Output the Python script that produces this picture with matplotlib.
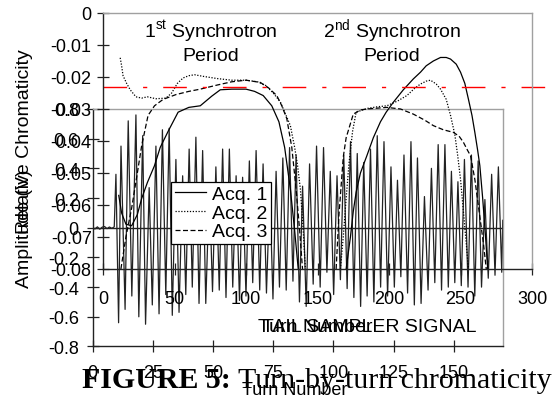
import numpy as np
import matplotlib.pyplot as plt

plt.rcParams['font.family'] = ['Liberation Sans', 'DejaVu Sans']
plt.rcParams['mathtext.fontset'] = 'custom'
plt.rcParams['mathtext.rm'] = 'Liberation Sans'

# tail sampler signal (turn, volts), peaks and troughs
sig_turns = [0, 1, 2, 3, 4, 5, 6, 7, 8, 9,
             9.7, 10.8, 11.8, 13.5, 14.8, 16.3, 18.0, 19.2, 20.8, 22.0,
             23.5, 24.8, 26.3, 27.6, 29.0, 30.4, 31.8, 33.1, 34.6, 35.9,
             37.4, 38.7, 40.1, 41.4, 42.9, 44.2, 45.7, 47.0, 48.5, 49.8,
             51.2, 52.6, 54.0, 55.4, 56.8, 58.2, 59.6, 61.0, 62.3, 63.7,
             65.1, 66.5, 67.9, 69.4, 70.8, 72.2, 73.6, 74.9, 76.2, 77.6,
             79.0, 80.4, 81.8, 83.2, 84.5, 85.9, 87.2, 88.7, 90.1, 91.6,
             93.0, 94.5, 95.9, 97.3, 98.7, 100.1, 101.5, 102.9, 104.3, 105.7,
             107.1, 108.5, 109.9, 111.3, 112.6, 114.0, 115.4, 116.8, 118.2, 119.6,
             121.0, 122.5, 123.9, 125.3, 126.6, 128.0, 129.3, 130.8, 132.2, 133.6,
             134.9, 136.4, 137.8, 139.3, 140.7, 142.1, 143.5, 144.9, 146.3, 147.7,
             149.0, 150.4, 151.7, 153.1, 154.4, 155.9, 157.3, 158.7, 160.1, 161.5,
             162.9, 164.3, 165.7, 167.1, 168.5, 169.9, 170.3]
sig_amp = [0.0, -0.008, 0.006, -0.01, 0.004, 0.008, -0.006, 0.005, -0.004, 0.006,
           0.36, -0.64, 0.55, -0.55, 0.72, -0.46, 0.76, -0.60, 0.62, -0.65,
           0.27, -0.52, 0.55, -0.58, 0.66, -0.45, 0.67, -0.59, 0.46, -0.57,
           0.35, -0.45, 0.53, -0.40, 0.61, -0.51, 0.52, -0.51, 0.28, -0.43,
           0.41, -0.42, 0.53, -0.47, 0.53, -0.40, 0.35, -0.49, 0.34, -0.46,
           0.45, -0.37, 0.52, -0.42, 0.43, -0.44, 0.25, -0.48, 0.38, -0.40,
           0.47, -0.42, 0.54, -0.36, 0.49, -0.50, 0.28, -0.53, 0.43, -0.38,
           0.55, -0.40, 0.54, -0.30, 0.38, -0.45, 0.35, -0.35, 0.49, -0.41,
           0.58, -0.47, 0.50, -0.53, 0.44, -0.46, 0.53, -0.50, 0.62, -0.40,
           0.58, -0.46, 0.41, -0.40, 0.32, -0.33, 0.49, -0.44, 0.58, -0.52,
           0.47, -0.51, 0.21, -0.42, 0.40, -0.37, 0.56, -0.42, 0.56, -0.40,
           0.38, -0.37, 0.31, -0.39, 0.46, -0.40, 0.49, -0.46, 0.45, -0.40,
           0.19, -0.34, 0.36, -0.32, 0.41, -0.30, 0.05]

# relative chromaticity, three acquisitions (nan splits the two synchrotron periods)
nan = np.nan
acq1_turns = [11, 13, 16, 20, 24, 27, 31, 36, 40, 45.5, 52.5, 60, 68, 76, 82, 90, 100, 106, 112,
              118, 123, 127, 131, 134, 136.5, nan,
              170, 173, 175, 177, 180, 184.5, 189, 194, 198, 203, 210, 217, 222, 226, 231, 236,
              240, 243, 247, 250, 253, 255.5, 258, 260, 262, 263.5, 265.5, 267.5, 269]
acq1_chroma = [-0.057, -0.0625, -0.066, -0.0665, -0.063, -0.058, -0.053, -0.0477, -0.042, -0.037,
               -0.031, -0.0295, -0.029, -0.026, -0.024, -0.0238, -0.0238, -0.0245, -0.0258,
               -0.029, -0.034, -0.042, -0.055, -0.068, -0.08, nan,
               -0.08, -0.07, -0.062, -0.056, -0.05, -0.0446, -0.039, -0.034, -0.031, -0.0279,
               -0.024, -0.0206, -0.0185, -0.0165, -0.015, -0.0139, -0.0139, -0.0144, -0.016,
               -0.0185, -0.022, -0.0269, -0.032, -0.0373, -0.043, -0.0477, -0.058, -0.07, -0.08]
acq2_turns = [12, 13, 14, 16.5, 19, 23, 27, 31, 37, 44, 48, 52, 56, 60, 64, 70, 80, 90, 100,
              108, 114, 119, 124, 128, 131, 134, 136, 138, 140, 141.5, nan,
              166, 168, 170, 172, 174.5, 177, 185, 192, 198.5, 206, 212.5, 218, 222, 226, 229,
              233, 236, 240, 243, 246, 248, 250, 252, 254, 255.5]
acq2_chroma = [-0.014, -0.0165, -0.0196, -0.022, -0.024, -0.0262, -0.0266, -0.0262, -0.0268,
               -0.0266, -0.025, -0.022, -0.0203, -0.0196, -0.0193, -0.0198, -0.0205, -0.021,
               -0.021, -0.0215, -0.0227, -0.025, -0.0278, -0.032, -0.0352, -0.042, -0.0475,
               -0.055, -0.068, -0.08, nan,
               -0.08, -0.07, -0.058, -0.047, -0.037, -0.031, -0.0298, -0.0293, -0.029, -0.0275,
               -0.0258, -0.0235, -0.0222, -0.0213, -0.021, -0.0222, -0.0238, -0.027, -0.032,
               -0.038, -0.0445, -0.052, -0.062, -0.072, -0.08]
acq3_turns = [12.5, 16, 20, 24, 27, 31.5, 36, 42, 51, 60, 68, 80, 90, 100, 110, 116, 121.5,
              125, 128.5, 132, 135, 137.5, 139.5, nan,
              163, 165, 168, 170, 175, 180, 184.5, 190, 198.5, 208, 217, 225, 231, 238, 245,
              249, 252, 255, 257, 260, 263, 266, 268]
acq3_chroma = [-0.08, -0.07, -0.061, -0.05, -0.0415, -0.032, -0.029, -0.027, -0.0255, -0.0245,
               -0.0238, -0.0225, -0.0215, -0.021, -0.0217, -0.0235, -0.0258, -0.029, -0.033,
               -0.042, -0.055, -0.068, -0.08, nan,
               -0.08, -0.063, -0.045, -0.039, -0.0316, -0.0303, -0.030, -0.0298, -0.0295,
               -0.030, -0.0316, -0.0335, -0.0352, -0.0365, -0.0373, -0.0385, -0.0404, -0.043,
               -0.0446, -0.052, -0.062, -0.072, -0.08]
ref_chroma = -0.023

chroma_ticks = [0, -0.01, -0.02, -0.03, -0.04, -0.05, -0.06, -0.07, -0.08]
chroma_labels = ['0', '-0.01', '-0.02', '-0.03', '-0.04', '-0.05', '-0.06', '-0.07', '-0.08']
amp_ticks = [-0.8, -0.6, -0.4, -0.2, 0, 0.2, 0.4, 0.6, 0.8]
amp_labels = ['-0.8', '-0.6', '-0.4', '-0.2', '0', '0.2', '0.4', '0.6', '0.8']
turn_ticks_a = [0, 50, 100, 150, 200, 250, 300]
turn_ticks_b = [0, 25, 50, 75, 100, 125, 150]

dark = '#222222'
grey = '#a0a0a0'


def frame(ax):
    ax.set_facecolor('none')
    for side in ['left', 'bottom']:
        ax.spines[side].set_color(dark)
        ax.spines[side].set_linewidth(1.0)
    for side in ['top', 'right']:
        ax.spines[side].set_color(grey)
        ax.spines[side].set_linewidth(1.0)
    ax.tick_params(direction='inout', length=8.5, width=0.9, color=dark, labelsize=13)


fig = plt.figure(figsize=(5.56, 4.02), dpi=100)

# tail sampler signal, underneath
axB = fig.add_axes([0.1665, 0.1356, 0.7381, 0.5908])
frame(axB)
axB.plot(sig_turns, sig_amp, color=dark, lw=0.9)
axB.axhline(0, color=dark, lw=1.0)
axB.set_xlim(0, 170.4)
axB.set_ylim(-0.8, 0.8)
axB.set_xticks(turn_ticks_b)
axB.set_xticklabels([str(t) for t in turn_ticks_b])
axB.set_yticks(amp_ticks)
axB.set_yticklabels(amp_labels)
axB.tick_params(axis='y', pad=5.7)
axB.tick_params(axis='x', pad=8)
axB.set_xlabel('Turn Number', fontsize=13)
axB.xaxis.set_label_coords(0.493, -0.145)
axB.set_ylabel('Amplitude (V)', fontsize=14)
axB.yaxis.set_label_coords(-0.145, 0.5)
axB.text(0.6735, 0.065, 'TAIL SAMPLER SIGNAL', transform=axB.transAxes,
         ha='center', va='baseline', fontsize=14)

# chromaticity, on top
axA = fig.add_axes([0.1853, 0.3284, 0.7716, 0.6368])
frame(axA)
axA.plot(acq1_turns, acq1_chroma, color='black', lw=0.9, label='Acq. 1')
axA.plot(acq2_turns, acq2_chroma, color='black', lw=0.9, linestyle=(0, (1, 1.3)), label='Acq. 2')
axA.plot(acq3_turns, acq3_chroma, color='black', lw=0.9, linestyle=(0, (4, 2)), label='Acq. 3')
axA.axhline(ref_chroma, xmin=0, xmax=1.057, color='red', lw=1.0,
            dashes=(17, 11.5, 3, 11.5), clip_on=False)
axA.set_xlim(0, 300)
axA.set_ylim(-0.08, 0)
axA.set_xticks(turn_ticks_a)
axA.set_xticklabels([str(t) for t in turn_ticks_a])
axA.set_yticks(chroma_ticks)
axA.set_yticklabels(chroma_labels)
axA.tick_params(axis='y', pad=3.9)
axA.tick_params(axis='x', pad=11)
axA.set_xlabel('Turn Number', fontsize=14)
axA.xaxis.set_label_coords(0.494, -0.19)
axA.set_ylabel('Relative Chromaticity', fontsize=14)
axA.yaxis.set_label_coords(-0.163, 0.5)

axA.text(0.251, 0.906, r'1$^{\rm st}$ Synchrotron', transform=axA.transAxes,
         ha='center', va='baseline', fontsize=14)
axA.text(0.251, 0.816, 'Period', transform=axA.transAxes, ha='center', va='baseline', fontsize=14)
axA.text(0.674, 0.906, r'2$^{\rm nd}$ Synchrotron', transform=axA.transAxes,
         ha='center', va='baseline', fontsize=14)
axA.text(0.674, 0.816, 'Period', transform=axA.transAxes, ha='center', va='baseline', fontsize=14)

leg = axA.legend(loc='upper left', bbox_to_anchor=(0.1585, 0.341), borderaxespad=0,
                 fontsize=14, handlelength=1.6, handletextpad=0.3, labelspacing=0.05,
                 borderpad=0.2, fancybox=False, framealpha=1, edgecolor='black')
leg.get_frame().set_linewidth(0.9)

# caption: bold figure number followed by regular text
cap = fig.text(82 / 556, 0.0348, 'FIGURE 5:', fontsize=21.5, fontweight='bold',
               family='Liberation Serif', va='baseline', ha='left')
plt.annotate(' Turn-by-turn chromaticity', xy=(1, 0), xycoords=cap, va='bottom', ha='left',
             fontsize=21.5, family='Liberation Serif', annotation_clip=False)

fig.savefig('out.png', dpi=100, facecolor='white')
